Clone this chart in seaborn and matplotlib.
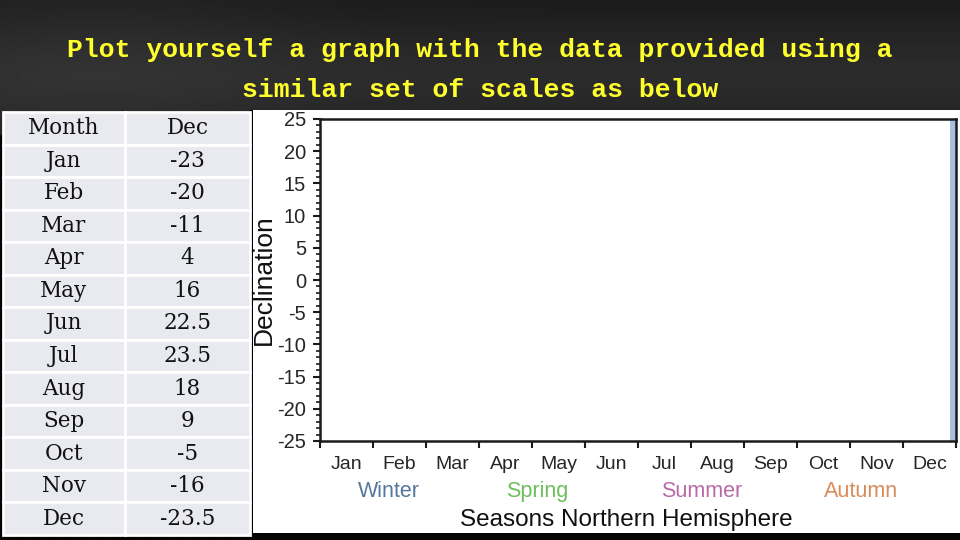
import numpy as np
import matplotlib
matplotlib.use("Agg")
import matplotlib.pyplot as plt
from matplotlib.patches import Rectangle
from matplotlib.ticker import MultipleLocator
import seaborn as sns

# table data shown on the slide
months = ['Jan', 'Feb', 'Mar', 'Apr', 'May', 'Jun', 'Jul', 'Aug', 'Sep', 'Oct', 'Nov', 'Dec']
declination = ['-23', '-20', '-11', '4', '16', '22.5', '23.5', '18', '9', '-5', '-16', '-23.5']
table_header = ['Month', 'Dec']

# season labels under the axis
seasons = ['Winter', 'Spring', 'Summer', 'Autumn']
season_colors = ['#55779c', '#6cbf5a', '#b86aa8', '#d98a5a']
season_x = [1.3, 4.1, 7.2, 10.2]

y_min, y_max = -25, 25

sns.set_theme(style='ticks')
plt.rcParams['font.family'] = ['Liberation Sans', 'DejaVu Sans']
plt.rcParams['axes.unicode_minus'] = False

fig = plt.figure(figsize=(9.6, 5.4), dpi=100)

# dark slide background
bg = fig.add_axes([0, 0, 1, 1], zorder=-5)
bg.set_xlim(0, 960)
bg.set_ylim(540, 0)
bg.axis('off')
yy = np.linspace(0, 1, 200)[:, None]
xx = np.linspace(0, 1, 300)[None, :]
grad = 0.09 + 0.08 * np.exp(-((yy - 0.14) / 0.12) ** 2) + 0.03 * np.exp(-((xx - 0.1) / 0.2) ** 2)
grad = grad * (yy < 0.25) + 0.02 * (yy >= 0.25)
bg.imshow(grad, cmap='gray', vmin=0, vmax=1, extent=[0, 960, 540, 0], aspect='auto')
bg.add_patch(Rectangle((250, 110), 710, 423, facecolor='black', edgecolor='none'))
bg.add_patch(Rectangle((253, 110), 707, 423, facecolor='white', edgecolor='none'))

fig.text(0.5, 1 - 50 / 540, 'Plot yourself a graph with the data provided using a',
         color='#ffff2e', family='Liberation Mono', fontweight='bold', fontsize=19,
         ha='center', va='center')
fig.text(0.5, 1 - 90 / 540, 'similar set of scales as below',
         color='#ffff2e', family='Liberation Mono', fontweight='bold', fontsize=19,
         ha='center', va='center')

# data table
tab_ax = fig.add_axes([3 / 960, 5 / 540, 247 / 960, 423 / 540])
tab_ax.axis('off')
cells = [[m, d] for m, d in zip(months, declination)]
tbl = tab_ax.table(cellText=cells, colLabels=table_header, bbox=[0, 0, 1, 1],
                   cellLoc='center', colWidths=[122 / 247, 125 / 247])
tbl.auto_set_font_size(False)
for key, cell in tbl.get_celld().items():
    cell.set_facecolor('#e9eaf0')
    cell.set_edgecolor('white')
    cell.set_linewidth(2)
    cell.get_text().set_fontfamily('DejaVu Serif')
    cell.get_text().set_fontsize(15.5)
    cell.get_text().set_color('#111111')

# empty chart with the scales
ax = fig.add_axes([320 / 960, 99 / 540, 636 / 960, 322 / 540])
ax.set_facecolor('white')
ax.set_xlim(0, len(months))
ax.set_ylim(y_min, y_max)
ax.axvspan(len(months) - 0.12, len(months), color='#a9bfdf', lw=0)

ax.set_xticks(range(len(months) + 1))
ax.set_xticklabels([])
ax.set_xticks(np.arange(len(months)) + 0.5, minor=True)
ax.set_xticklabels(months, minor=True, fontsize=14)
ax.tick_params(axis='x', which='major', direction='out', length=5, width=1.5, color='#1a1a1a')
ax.tick_params(axis='x', which='minor', length=0, pad=10.5)

ax.set_yticks(range(y_min, y_max + 1, 5))
ax.yaxis.set_minor_locator(MultipleLocator(1))
ax.tick_params(axis='y', which='major', direction='out', length=5, width=1.5,
               color='#1a1a1a', labelsize=14.5, pad=5)
ax.tick_params(axis='y', which='minor', direction='out', length=3, width=1.2, color='#1a1a1a')

for sp in ax.spines.values():
    sp.set_linewidth(1.8)
    sp.set_color('#1a1a1a')
sns.despine(ax=ax, top=False, right=False)

ax.set_ylabel('Declination', fontsize=19, labelpad=1, color='#111111')

for name, col, x in zip(seasons, season_colors, season_x):
    ax.text(x, -0.158, name, color=col, fontsize=15.5, ha='center', va='center',
            transform=ax.get_xaxis_transform())
fig.text(626 / 960, 20 / 540, 'Seasons Northern Hemisphere', fontsize=17.5,
         ha='center', va='center', color='#111111')

fig.savefig('out.png', dpi=100)
